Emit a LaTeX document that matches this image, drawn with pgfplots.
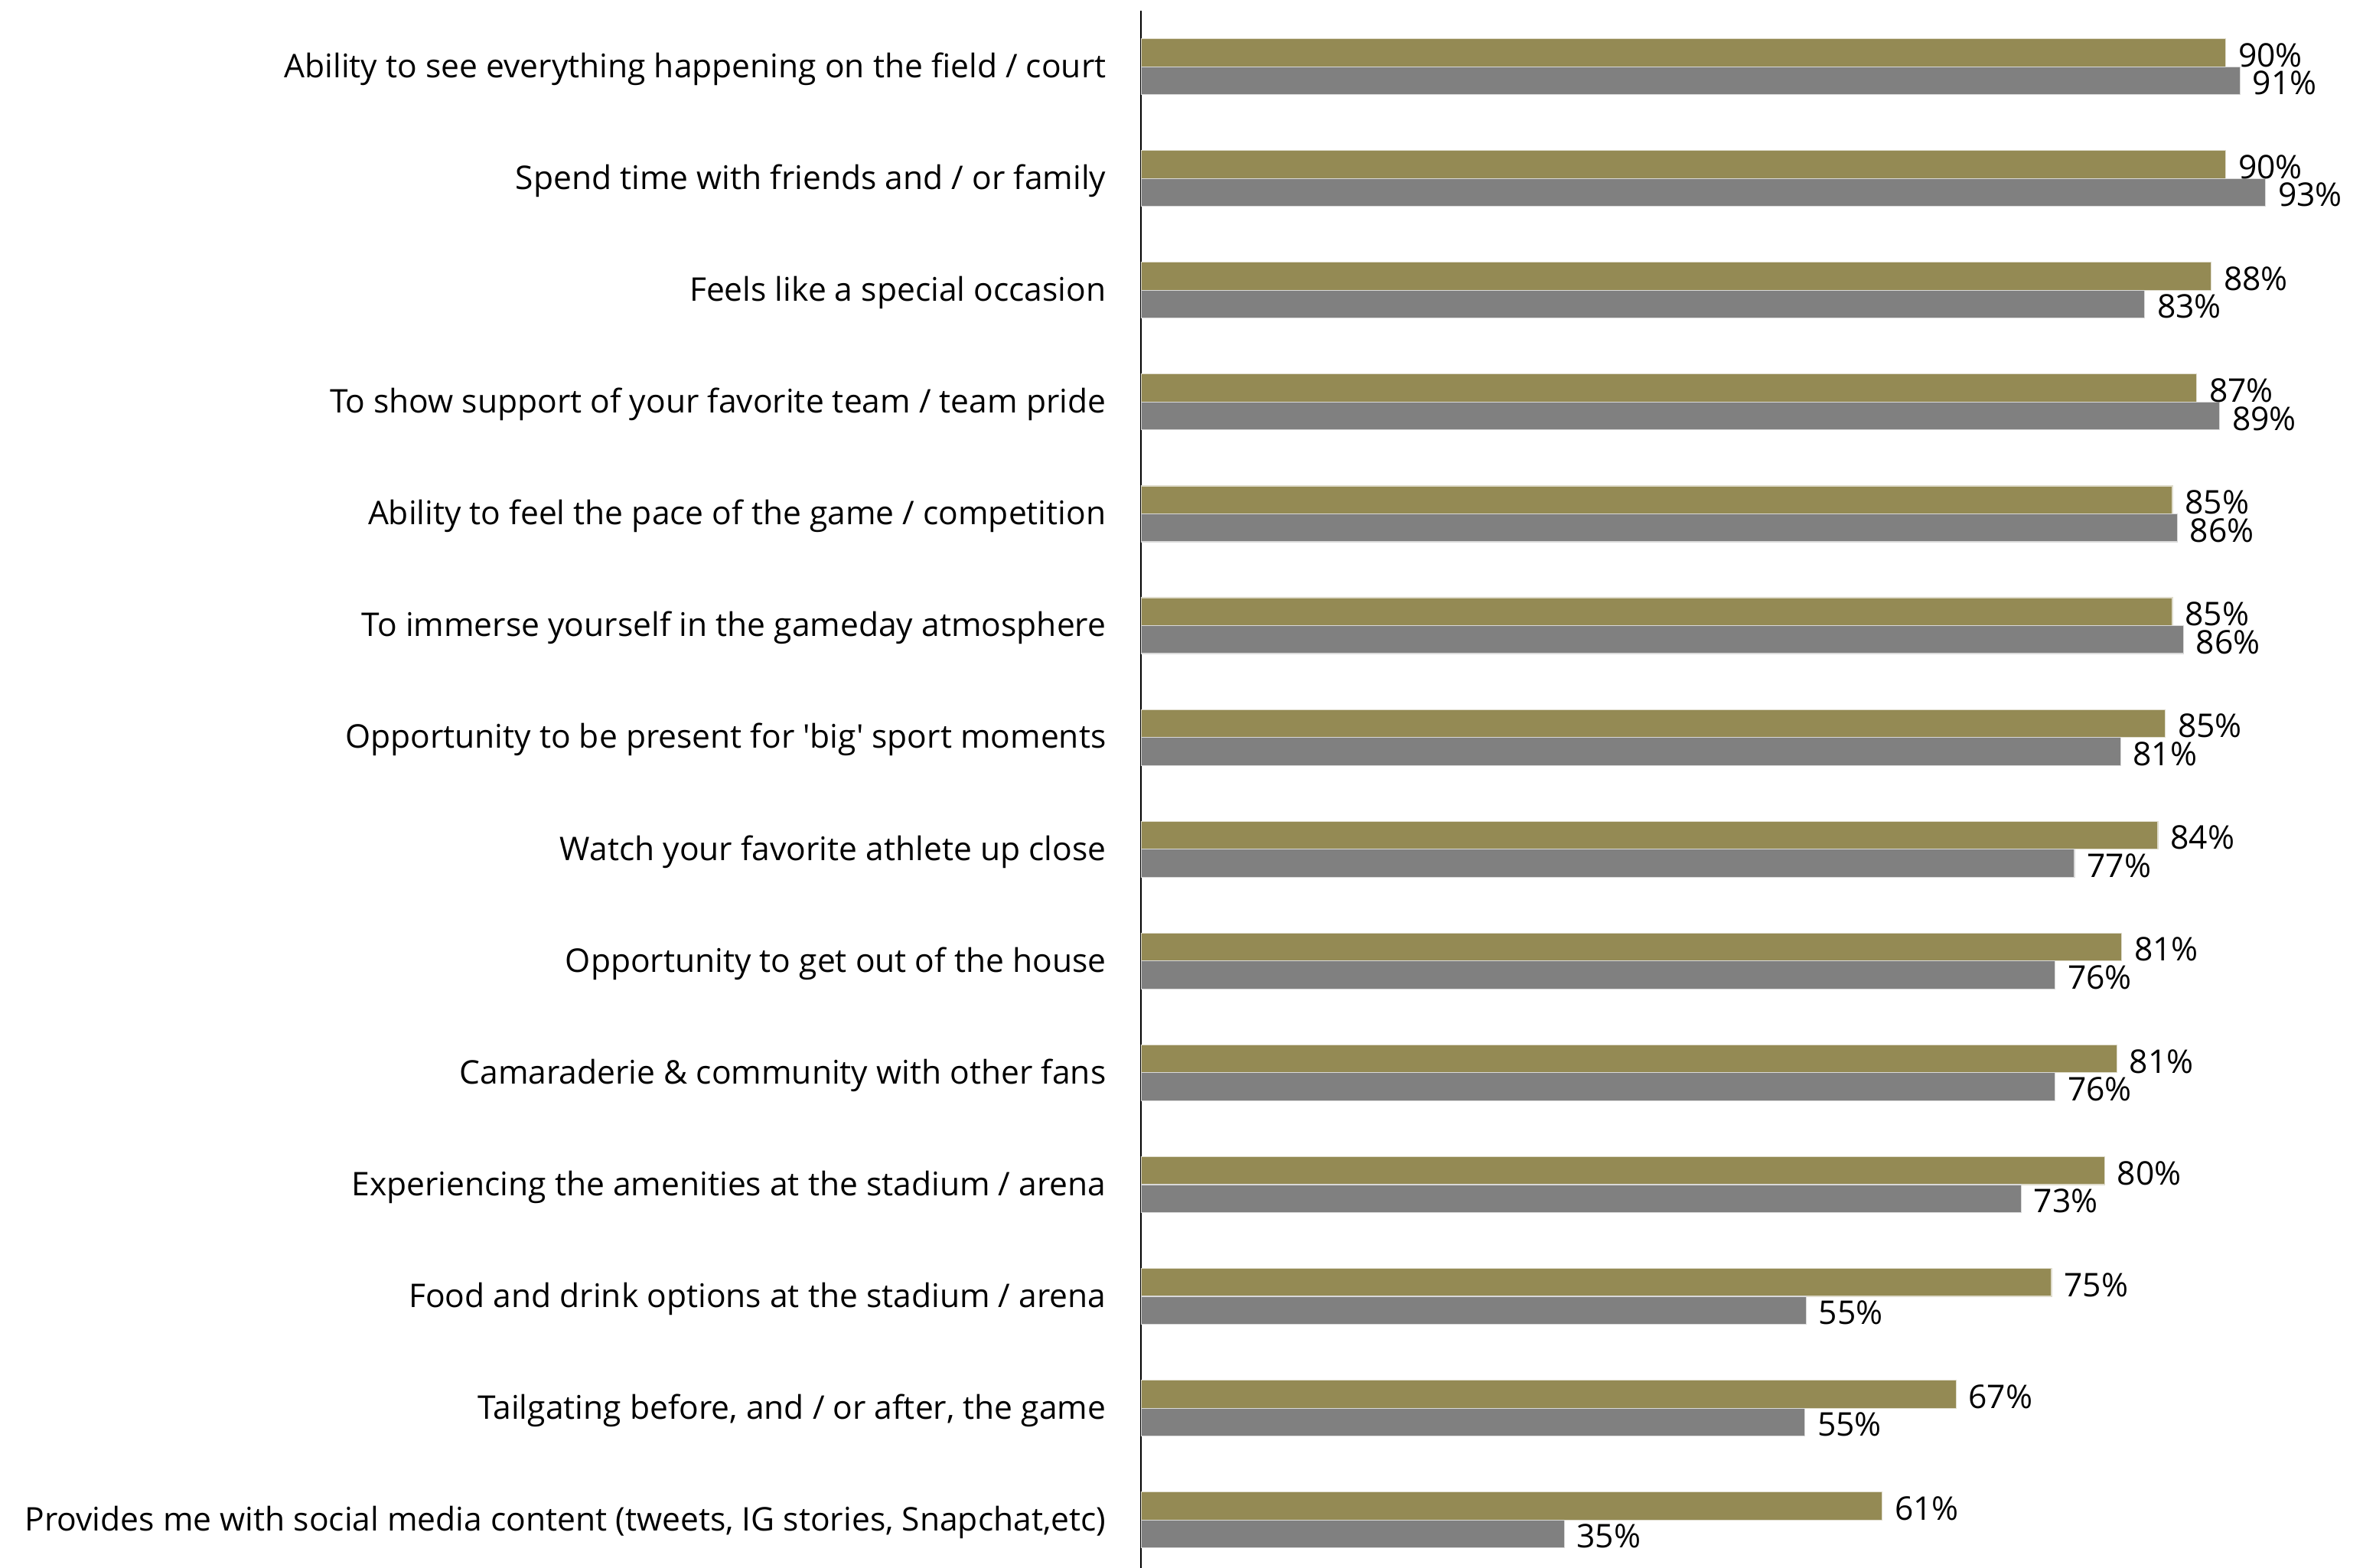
\documentclass[border=0pt]{standalone}
\usepackage{pgfplots}
\pgfplotsset{compat=1.18}
\usepackage{pgfplotstable}
\usepackage{fontspec}
\setmainfont{Open Sans}
\definecolor{oliveb}{HTML}{948A54}
\definecolor{grayb}{HTML}{808080}

\pgfplotstableread{
y v lbl
0 89.7 90
1 89.7 90
2 88.5 88
3 87.3 87
4 85.3 85
5 85.3 85
6 84.7 85
7 84.1 84
8 81.1 81
9 80.7 81
10 79.7 80
11 75.3 75
12 67.4 67
13 61.3 61
}\oliveData

\pgfplotstableread{
y v lbl
0 90.9 91
1 93.0 93
2 83.0 83
3 89.2 89
4 85.7 86
5 86.2 86
6 81.0 81
7 77.2 77
8 75.6 76
9 75.6 76
10 72.8 73
11 55.0 55
12 54.9 55
13 35.0 35
}\grayData

\begin{document}
\begin{tikzpicture}
\begin{axis}[
  scale only axis,
  width=407.5pt, height=516.4pt,
  xmin=0, xmax=102.13,
  ymin=-0.5, ymax=13.5,
  y dir=reverse,
  clip=false,
  axis x line=none,
  axis y line=left,
  y axis line style={-, line width=0.6pt, black},
  ytick={0,...,13},
  major tick length=0pt,
  yticklabel style={anchor=east, font=\fontsize{10.75}{13}\selectfont, xshift=-8pt, yshift=-0.8pt},
  yticklabels={
    {Ability to see everything happening on the field / court},
    {Spend time with friends and / or family},
    {Feels like a special occasion},
    {To show support of your favorite team / team pride},
    {Ability to feel the pace of the game / competition},
    {To immerse yourself in the gameday atmosphere},
    {Opportunity to be present for \textquotesingle big\textquotesingle\ sport moments},
    {Watch your favorite athlete up close},
    {Opportunity to get out of the house},
    {Camaraderie \& community with other fans},
    {Experiencing the amenities at the stadium / arena},
    {Food and drink options at the stadium / arena},
    {Tailgating before, and / or after, the game},
    {Provides me with social media content (tweets, IG stories, Snapchat,etc)}
  },
  xbar,
  bar width=0.25,
  nodes near coords={\pgfplotspointmeta\%},
  point meta=explicit symbolic,
  every node near coord/.append style={font=\fontsize{10.75}{13}\selectfont, anchor=west, inner xsep=2pt, inner ysep=0pt, xshift=2pt, yshift=-0.8pt},
]
\addplot[fill=oliveb, draw=white!70!oliveb, line width=0.3pt, bar shift=-0.125] table[x=v, y=y, meta=lbl] {\oliveData};
\addplot[fill=grayb, draw=white!70!grayb, line width=0.3pt, bar shift=0.125] table[x=v, y=y, meta=lbl] {\grayData};
\coordinate (TL) at (axis cs:0,-0.5);
\coordinate (BR) at (axis cs:102.13,13.5);
\end{axis}
\pgfresetboundingbox
\path ([shift={(-376.5pt,3.55pt)}]TL) rectangle ([shift={(0pt,2.6pt)}]BR);
\end{tikzpicture}
\end{document}
